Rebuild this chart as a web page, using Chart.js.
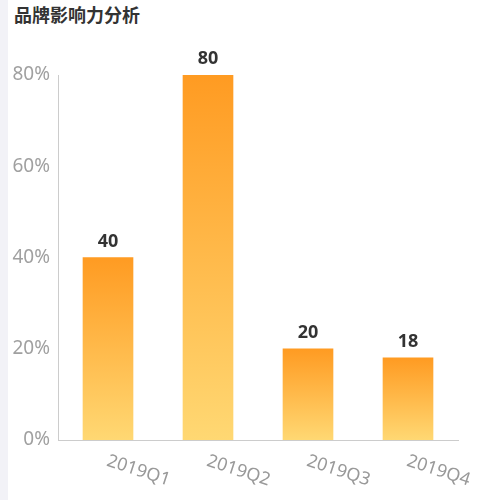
<!DOCTYPE html>
<html lang="zh-CN">
<head>
    <meta charset="UTF-8">
    <title>品牌影响力分析</title>
    <script src="https://cdn.jsdelivr.net/npm/chart.js@4.4.1/dist/chart.umd.min.js"></script>
    <style>
        html, body { margin: 0; padding: 0; background: #fff; }
        .wrap { position: relative; width: 500px; height: 500px; overflow: hidden; }
        .strip { position: absolute; left: 0; top: 0; width: 8px; height: 500px; background: #f2f2f7; }
        .title { position: absolute; left: 14px; top: 1px; font: bold 18px 'Noto Sans CJK SC', sans-serif; color: #333; }
        #brandChart { position: absolute; left: 0; top: 0; }
    </style>
</head>
<body>
    <div class="wrap">
        <div class="strip"></div>
        <div class="title">品牌影响力分析</div>
        <canvas id="brandChart" width="500" height="500"></canvas>
    </div>
    <script>
        // 数据
        const quarters = ['2019Q1', '2019Q2', '2019Q3', '2019Q4'];
        const influence = [40, 80, 20, 18];
        const yTicks = [0, 20, 40, 60, 80];

        const FONT = "'Noto Sans', 'Noto Sans CJK SC', sans-serif";

        // 每根柱子自上而下的渐变
        function barGradient(c) {
            const chart = c.chart;
            if (!chart.chartArea || !chart.scales.y) return '#ffa42a';
            const y = chart.scales.y;
            const top = y.getPixelForValue(influence[c.dataIndex]);
            const bottom = y.getPixelForValue(0);
            const g = chart.ctx.createLinearGradient(0, top, 0, bottom);
            g.addColorStop(0, '#ff9b22');
            g.addColorStop(1, '#ffd873');
            return g;
        }

        // 柱顶数值 + 倾斜的x轴标签
        const labelPlugin = {
            id: 'labelPlugin',
            afterDatasetsDraw(chart) {
                const ctx = chart.ctx;
                const meta = chart.getDatasetMeta(0);
                ctx.save();
                ctx.font = 'bold 18px ' + FONT;
                ctx.fillStyle = '#333';
                ctx.textAlign = 'center';
                ctx.textBaseline = 'bottom';
                meta.data.forEach((bar, i) => {
                    ctx.fillText(String(influence[i]), bar.x, bar.y - 7);
                });
                const xs = chart.scales.x;
                ctx.font = '18px ' + FONT;
                ctx.fillStyle = '#999';
                ctx.textAlign = 'left';
                ctx.textBaseline = 'top';
                quarters.forEach((q, i) => {
                    const px = xs.getPixelForValue(i);
                    ctx.save();
                    ctx.translate(px + 2, xs.top + 12);
                    ctx.rotate(18 * Math.PI / 180);
                    ctx.fillText(q, 0, 0);
                    ctx.restore();
                });
                ctx.restore();
            }
        };

        new Chart(document.getElementById('brandChart').getContext('2d'), {
            type: 'bar',
            data: {
                labels: quarters,
                datasets: [{
                    data: influence,
                    backgroundColor: barGradient,
                    barThickness: 50
                }]
            },
            options: {
                responsive: false,
                animation: false,
                layout: { padding: { top: 75, right: 42, bottom: 52, left: 0 } },
                plugins: { legend: { display: false }, tooltip: { enabled: false } },
                scales: {
                    x: {
                        grid: { display: false },
                        border: { color: '#ccc' },
                        ticks: { display: false }
                    },
                    y: {
                        min: 0, max: 80,
                        afterFit(s) { s.width = 58; },
                        afterBuildTicks(s) { s.ticks = yTicks.map(v => ({ value: v })); },
                        grid: { display: false },
                        border: { color: '#ccc' },
                        ticks: {
                            color: '#a0a0a0',
                            padding: 0,
                            font: { size: 19, family: FONT },
                            callback: v => v + '%'
                        }
                    }
                }
            },
            plugins: [labelPlugin]
        });
    </script>
</body>
</html>
